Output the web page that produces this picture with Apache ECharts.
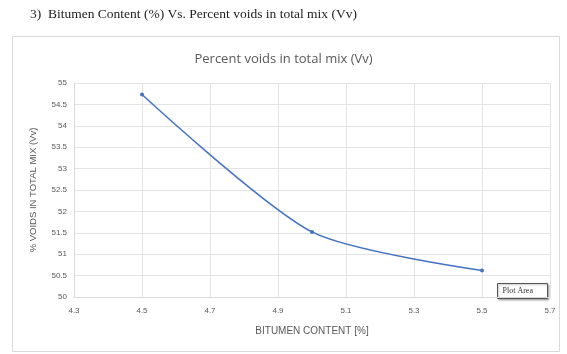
<!DOCTYPE html>
<html>
<head>
<meta charset="utf-8">
<script src="https://cdn.jsdelivr.net/npm/echarts@6/dist/echarts.min.js"></script>
<style>
html,body{margin:0;padding:0;background:#fff;}
#c{width:567px;height:354px;}
</style>
</head>
<body>
<div id="c"></div>
<script>
const bitumen = [4.5, 5.0, 5.5];
const voids = [54.73, 51.52, 50.62];
const heading = '3)  Bitumen Content (%) Vs. Percent voids in total mix (Vv)';
const chartTitle = 'Percent voids in total mix (Vv)';
const xName = 'BITUMEN CONTENT [%]';
const yName = '% VOIDS IN TOTAL MIX (Vv)';

const chart = echarts.init(document.getElementById('c'), null, {renderer: 'canvas'});
chart.setOption({
  animation: false,
  backgroundColor: '#fff',
  graphic: [
    {type: 'text', left: 30, top: 7, style: {text: heading, font: '13.5px "Liberation Serif"', fill: '#222'}},
    {type: 'rect', shape: {x: 12.5, y: 36.5, width: 547, height: 315}, style: {fill: 'none', stroke: '#d9d9d9', lineWidth: 1}, z: -1},
    {type: 'group', left: 497, top: 283, children: [
      {type: 'rect', shape: {x: 0, y: 0, width: 50, height: 15}, style: {fill: '#fff', stroke: '#555', lineWidth: 1, shadowBlur: 2, shadowColor: 'rgba(0,0,0,0.3)', shadowOffsetX: 1, shadowOffsetY: 1}},
      {type: 'text', x: 5, y: 3, style: {text: 'Plot Area', font: '8px "Liberation Serif"', fill: '#333'}}
    ], z: 10}
  ],
  title: {
    text: chartTitle, left: 'center', top: 48,
    textStyle: {fontFamily: 'Open Sans', fontSize: 13, fontWeight: 'normal', color: '#595959'}
  },
  grid: {left: 74, right: 17, top: 83, bottom: 57},
  xAxis: {
    type: 'value', min: 4.3, max: 5.7, interval: 0.2,
    name: xName, nameLocation: 'middle', nameGap: 29,
    nameTextStyle: {fontFamily: 'Liberation Sans', fontSize: 10, color: '#595959'},
    axisLine: {show: true, lineStyle: {color: '#d9d9d9'}},
    axisTick: {show: false},
    axisLabel: {fontFamily: 'Liberation Sans', fontSize: 8, color: '#595959', margin: 10, formatter: v => (+v).toFixed(1)},
    splitLine: {show: true, lineStyle: {color: '#e3e3e3'}}
  },
  yAxis: {
    type: 'value', min: 50, max: 55, interval: 0.5,
    name: yName, nameLocation: 'middle', nameGap: 36,
    nameTextStyle: {fontFamily: 'Liberation Sans', fontSize: 9.5, color: '#595959'},
    axisLine: {show: true, lineStyle: {color: '#d9d9d9'}},
    axisTick: {show: false},
    axisLabel: {fontFamily: 'Liberation Sans', fontSize: 8, color: '#595959', margin: 7, formatter: v => String(+(+v).toFixed(1))},
    splitLine: {show: true, lineStyle: {color: '#e3e3e3'}}
  },
  series: [{
    type: 'line',
    data: bitumen.map((b, i) => [b, voids[i]]),
    smooth: 0.25,
    symbol: 'circle', symbolSize: 4,
    lineStyle: {color: '#4472C4', width: 1.5},
    itemStyle: {color: '#4472C4'}
  }]
});
</script>
</body>
</html>
